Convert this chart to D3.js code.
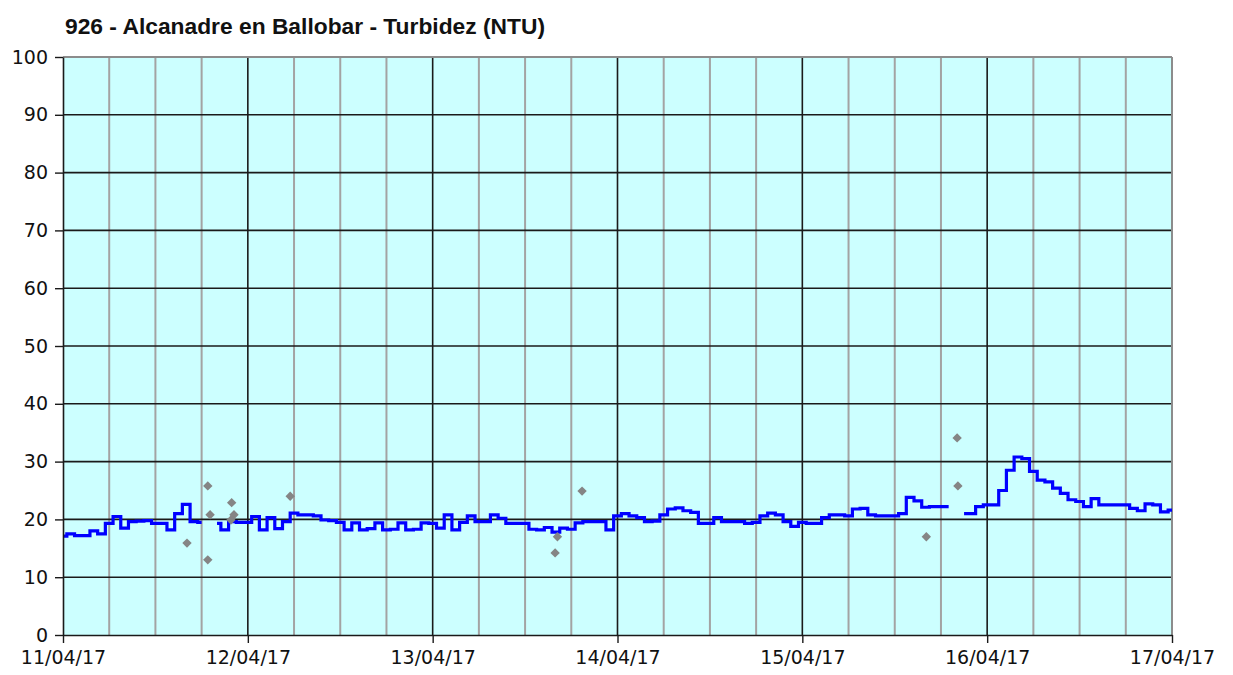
<!DOCTYPE html>
<html>
<head>
<meta charset="utf-8">
<script src="https://cdn.jsdelivr.net/npm/d3@7"></script>
<style>
  html, body { margin: 0; padding: 0; background: #ffffff; }
  svg { display: block; }
</style>
</head>
<body>
<svg id="chart" width="1233" height="675"></svg>
<script>
// ---------------- DATA ----------------
const chartTitle = "926 - Alcanadre en Ballobar - Turbidez (NTU)";
const startTime = "2017-04-11T00:00";
const endTime = "2017-04-17T00:00";
const dayTicks = ["2017-04-11","2017-04-12","2017-04-13","2017-04-14","2017-04-15","2017-04-16","2017-04-17"];
const yTicks = [0,10,20,30,40,50,60,70,80,90,100];

// hourly turbidity (NTU), index = hours since 11/04/17 00:00 ; null = no data
const turbidity = [
  17.1,17.5,17.2,17.2,18.0,17.5,19.3,20.5,18.5,19.6,19.7,19.8,19.3,19.3,18.2,21.0,22.6,19.6,19.5,null,19.3,18.2,19.6,19.5,
  19.5,20.5,18.2,20.3,18.4,19.6,21.1,20.8,20.8,20.6,19.9,19.8,19.5,18.2,19.4,18.2,18.4,19.4,18.2,18.3,19.4,18.2,18.3,19.4,
  19.3,18.5,20.8,18.2,19.5,20.6,19.6,19.6,20.8,20.2,19.3,19.3,19.3,18.3,18.2,18.6,17.8,18.5,18.3,19.4,19.6,19.6,19.6,18.2,
  20.6,21.0,20.6,20.3,19.6,19.7,20.8,21.8,22.0,21.5,21.2,19.3,19.3,20.3,19.6,19.6,19.6,19.3,19.5,20.6,21.1,20.8,19.6,18.8,
  19.5,19.3,19.3,20.3,20.8,20.8,20.6,21.8,21.9,20.8,20.6,20.6,20.6,21.0,23.8,23.2,22.1,22.2,22.2,22.2,null,21.0,21.0,22.2,
  22.5,22.5,25.0,28.5,30.8,30.5,28.3,26.8,26.5,25.4,24.5,23.4,23.1,22.2,23.6,22.5,22.5,22.5,22.5,21.9,21.5,22.7,22.5,21.3,
  21.6
];

// isolated samples (grey diamonds)
const sampleHours  = [16.1, 18.8, 18.8, 19.1, 21.9, 22.2, 21.8, 29.5, 63.9, 64.2, 67.4, 112.1, 116.1, 116.2];
const sampleValues = [15.9, 25.8, 13.0, 20.8, 22.9, 20.8, 19.9, 24.0, 14.2, 17.0, 24.9, 17.0, 34.1, 25.8];

// ---------------- CHART ----------------
const svg = d3.select("#chart");
const parse = d3.timeParse("%Y-%m-%dT%H:%M");
const parseDay = d3.timeParse("%Y-%m-%d");
const t0 = parse(startTime), t1 = parse(endTime);
const hourToDate = h => new Date(t0.getTime() + h * 3600 * 1000);

const pLeft = 63, pRight = 1172, pTop = 57, pBottom = 635;
const x = d3.scaleTime().domain([t0, t1]).range([pLeft, pRight]);
const y = d3.scaleLinear().domain([0, 100]).range([pBottom, pTop]);

// plot background
svg.append("rect")
  .attr("x", pLeft).attr("y", pTop)
  .attr("width", pRight - pLeft).attr("height", pBottom - pTop)
  .attr("fill", "#ccffff");

// minor vertical gridlines every 6 hours
const sixHours = d3.timeHour.every(6).range(t0, d3.timeHour.offset(t1, 1));
svg.append("g").selectAll("line")
  .data(sixHours.filter(d => d.getHours() !== 0))
  .join("line")
  .attr("x1", d => x(d)).attr("x2", d => x(d))
  .attr("y1", pTop).attr("y2", pBottom)
  .attr("stroke", "#a3a3a3").attr("stroke-width", 2);

// horizontal gridlines
svg.append("g").selectAll("line")
  .data(yTicks.filter(v => v > 0 && v < 100))
  .join("line")
  .attr("x1", pLeft).attr("x2", pRight)
  .attr("y1", d => y(d)).attr("y2", d => y(d))
  .attr("stroke", "#1a1a1a").attr("stroke-width", 1.6);

// day gridlines
const days = dayTicks.map(parseDay);
svg.append("g").selectAll("line")
  .data(days.slice(1, -1))
  .join("line")
  .attr("x1", d => x(d)).attr("x2", d => x(d))
  .attr("y1", pTop).attr("y2", pBottom)
  .attr("stroke", "#1a1a1a").attr("stroke-width", 1.6);

// plot border (top & right in grey)
svg.append("line").attr("x1", pLeft).attr("x2", pRight).attr("y1", pTop).attr("y2", pTop)
  .attr("stroke", "#8c8c8c").attr("stroke-width", 2);
svg.append("line").attr("x1", pRight).attr("x2", pRight).attr("y1", pTop).attr("y2", pBottom)
  .attr("stroke", "#8c8c8c").attr("stroke-width", 2);

// turbidity line
const series = turbidity.map((v, i) => ({ t: hourToDate(i), v }));
const line = d3.line()
  .defined(d => d.v !== null)
  .x(d => x(d.t))
  .y(d => y(d.v))
  .curve(d3.curveStep);
svg.append("path")
  .datum(series)
  .attr("fill", "none")
  .attr("stroke", "#0000ff")
  .attr("stroke-width", 3.2)
  .attr("d", line);

// grey diamonds
const diamond = d3.symbol().type(d3.symbolSquare).size(44);
svg.append("g").selectAll("path")
  .data(sampleHours.map((h, i) => ({ t: hourToDate(h), v: sampleValues[i] })))
  .join("path")
  .attr("d", diamond)
  .attr("transform", d => `translate(${x(d.t)},${y(d.v)}) rotate(45)`)
  .attr("fill", "#858585");

// axes
const fontFam = "'DejaVu Sans', Verdana, sans-serif";
const yAxis = svg.append("g")
  .attr("transform", `translate(${pLeft},0)`)
  .call(d3.axisLeft(y).tickValues(yTicks).tickSize(8).tickPadding(7).tickSizeOuter(0));
const xAxis = svg.append("g")
  .attr("transform", `translate(0,${pBottom})`)
  .call(d3.axisBottom(x).tickValues(days).tickSize(8).tickPadding(8).tickSizeOuter(0)
    .tickFormat(d3.timeFormat("%d/%m/%y")));

[yAxis, xAxis].forEach(g => {
  g.selectAll("path.domain").attr("stroke", "#1a1a1a").attr("stroke-width", 1.6);
  g.selectAll(".tick line").attr("stroke", "#1a1a1a").attr("stroke-width", 1.4);
  g.selectAll("text")
    .attr("fill", "#111")
    .style("font-family", fontFam)
    .style("font-size", "19px");
});

// title
svg.append("text")
  .attr("x", 65).attr("y", 34)
  .style("font-family", "'Liberation Sans', Arial, sans-serif")
  .style("font-weight", "bold")
  .style("font-size", "22px")
  .attr("textLength", 480)
  .attr("lengthAdjust", "spacingAndGlyphs")
  .attr("fill", "#111")
  .text(chartTitle);
</script>
</body>
</html>
